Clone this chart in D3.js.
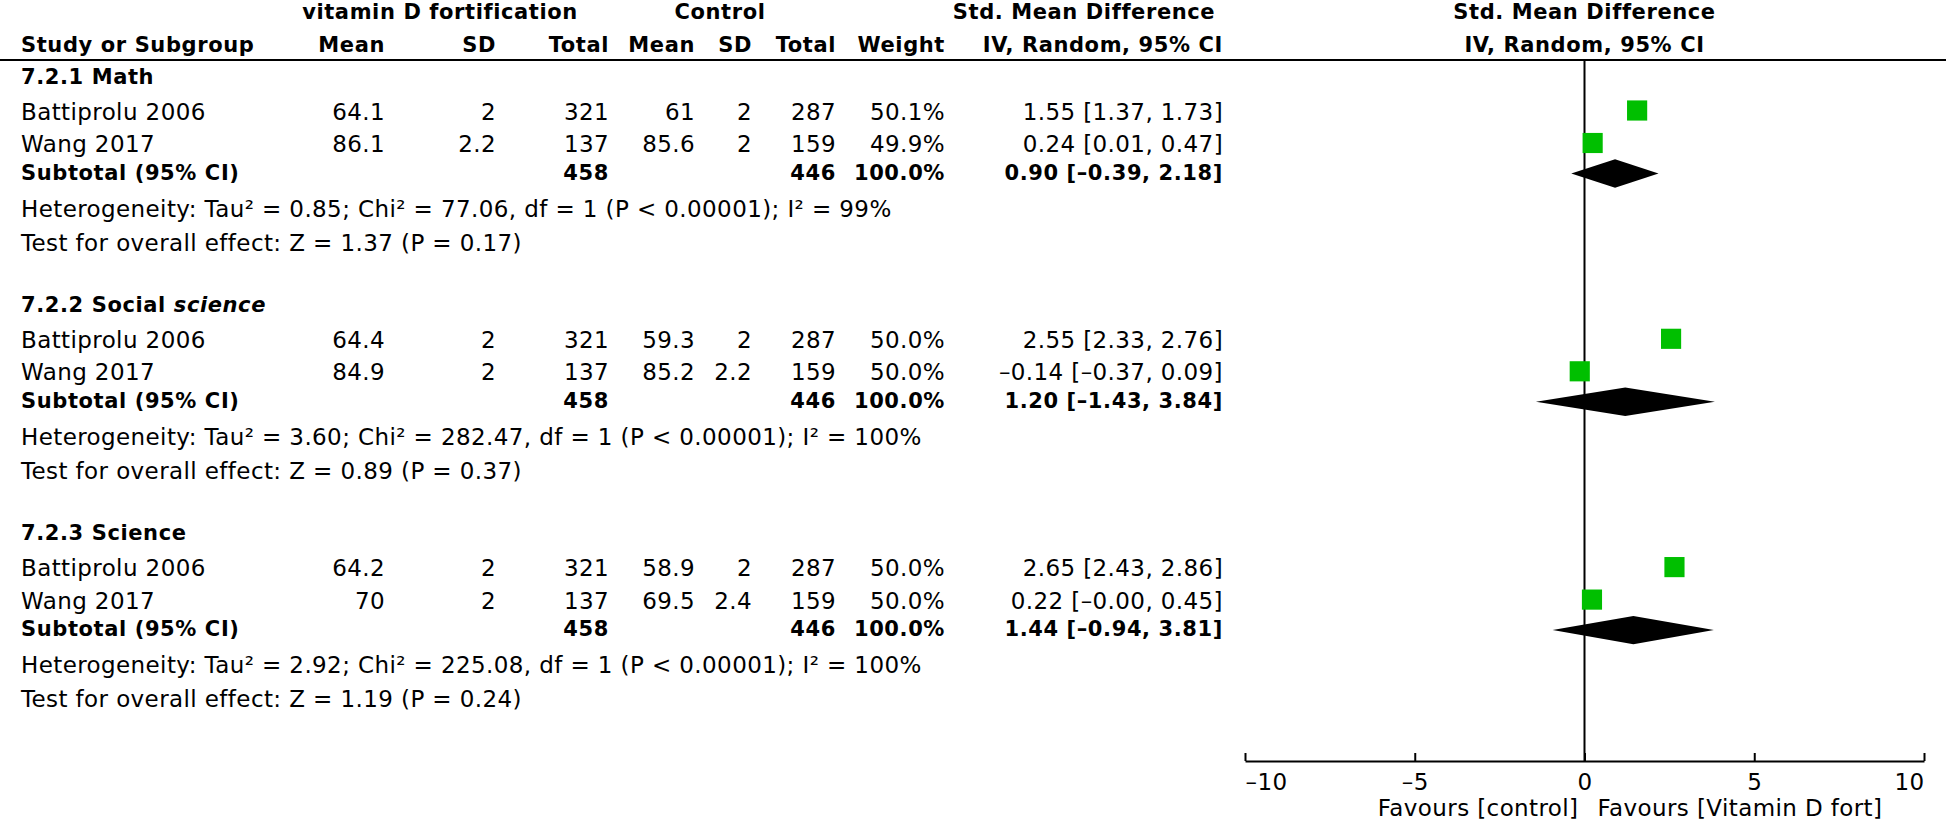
<!DOCTYPE html>
<html>
<head>
<meta charset="utf-8">
<script src="https://cdn.jsdelivr.net/npm/d3@7/dist/d3.min.js"></script>
<style>
  html, body { margin: 0; padding: 0; background: #fff; }
  svg { display: block; }
  text { font-family: "DejaVu Sans", sans-serif; fill: #000; }
</style>
</head>
<body>
<svg id="chart" width="1946" height="821"></svg>
<script>
// ---------------- data ----------------
const groupLabels = ["7.2.1 Math", "7.2.2 Social ", "7.2.3 Science"];
const groupItalic = ["", "science", ""];

const studyGroup = [0, 0, 1, 1, 2, 2];
const studyNames = ["Battiprolu 2006", "Wang 2017", "Battiprolu 2006", "Wang 2017", "Battiprolu 2006", "Wang 2017"];
const expMean = ["64.1", "86.1", "64.4", "84.9", "64.2", "70"];
const expSD = ["2", "2.2", "2", "2", "2", "2"];
const expN = [321, 137, 321, 137, 321, 137];
const ctlMean = ["61", "85.6", "59.3", "85.2", "58.9", "69.5"];
const ctlSD = ["2", "2", "2", "2.2", "2", "2.4"];
const ctlN = [287, 159, 287, 159, 287, 159];
const weights = [50.1, 49.9, 50.0, 50.0, 50.0, 50.0];
const smd = [1.55, 0.24, 2.55, -0.14, 2.65, 0.22];
const ciLow = [1.37, 0.01, 2.33, -0.37, 2.43, -0.00];
const ciHigh = [1.73, 0.47, 2.76, 0.09, 2.86, 0.45];

const subExpN = [458, 458, 458];
const subCtlN = [446, 446, 446];
const subWeight = [100.0, 100.0, 100.0];
const subSmd = [0.90, 1.20, 1.44];
const subLow = [-0.39, -1.43, -0.94];
const subHigh = [2.18, 3.84, 3.81];

const tau2 = ["0.85", "3.60", "2.92"];
const chi2 = ["77.06", "282.47", "225.08"];
const hetDf = [1, 1, 1];
const hetP = ["< 0.00001", "< 0.00001", "< 0.00001"];
const i2 = ["99%", "100%", "100%"];
const zVal = ["1.37", "0.89", "1.19"];
const zP = ["0.17", "0.37", "0.24"];

const xTicks = [-10, -5, 0, 5, 10];
const favourLeft = "Favours [control]";
const favourRight = "Favours [Vitamin D fort]";

// ---------------- layout ----------------
const svg = d3.select("#chart");
const FS = 23;          // regular font size
const LS = 0.4;         // regular letter spacing
const FSB = 21;         // bold font size
const LSB = 0.6;        // bold letter spacing
const GREEN = "#00BF00";

const x = d3.scaleLinear().domain([-10, 10]).range([1245, 1924]);
const sectionY = d3.scaleLinear().domain([0, 1]).range([110.5, 338.8]);
const boxSize = d3.scaleSqrt().domain([0, 100]).range([0, 28.5]);

const col = { name: 21, eMean: 385, eSD: 496, eN: 609, cMean: 695, cSD: 752, cN: 836, w: 945, ci: 1223 };
const off = { header: -27, study: [9, 41.5], sub: 69, het: 106, test: 140 };
const markOff = { study: [0, 32.5], sub: 63 };
const axisY = 761;
const topLineY = 60;

const fmtNum = v => ((v < 0 || Object.is(v, -0)) ? "\u2013" : "") + Math.abs(v).toFixed(2);
const fmtCI = (e, l, h) => `${fmtNum(e)} [${fmtNum(l)}, ${fmtNum(h)}]`;
const fmtPct = v => v.toFixed(1) + "%";

function txt(g, xx, yy, s, opt = {}) {
  return g.append("text")
    .attr("x", xx).attr("y", yy)
    .attr("text-anchor", opt.anchor || "start")
    .attr("font-size", opt.bold ? FSB : FS)
    .attr("letter-spacing", opt.bold ? LSB : LS)
    .attr("font-weight", opt.bold ? "bold" : "normal")
    .text(s);
}

// headers
const hdr = svg.append("g");
txt(hdr, 440, 19, "vitamin D fortification", { bold: true, anchor: "middle" });
txt(hdr, 720, 19, "Control", { bold: true, anchor: "middle" });
txt(hdr, 1084, 19, "Std. Mean Difference", { bold: true, anchor: "middle" });
txt(hdr, (x.range()[0] + x.range()[1]) / 2, 19, "Std. Mean Difference", { bold: true, anchor: "middle" });
txt(hdr, col.name, 52, "Study or Subgroup", { bold: true });
txt(hdr, col.eMean, 52, "Mean", { bold: true, anchor: "end" });
txt(hdr, col.eSD, 52, "SD", { bold: true, anchor: "end" });
txt(hdr, col.eN, 52, "Total", { bold: true, anchor: "end" });
txt(hdr, col.cMean, 52, "Mean", { bold: true, anchor: "end" });
txt(hdr, col.cSD, 52, "SD", { bold: true, anchor: "end" });
txt(hdr, col.cN, 52, "Total", { bold: true, anchor: "end" });
txt(hdr, col.w, 52, "Weight", { bold: true, anchor: "end" });
txt(hdr, col.ci, 52, "IV, Random, 95% CI", { bold: true, anchor: "end" });
txt(hdr, (x.range()[0] + x.range()[1]) / 2, 52, "IV, Random, 95% CI", { bold: true, anchor: "middle" });

svg.append("line").attr("x1", 0).attr("x2", 1946).attr("y1", topLineY).attr("y2", topLineY)
  .attr("stroke", "#000").attr("stroke-width", 2);

// zero line
svg.append("line").attr("x1", x(0)).attr("x2", x(0)).attr("y1", topLineY).attr("y2", axisY)
  .attr("stroke", "#000").attr("stroke-width", 2);

// sections
const tbl = svg.append("g");
const marks = svg.append("g");
groupLabels.forEach((lab, gi) => {
  const base = sectionY(gi);
  const t = txt(tbl, col.name, base + off.header, lab, { bold: true });
  if (groupItalic[gi]) t.append("tspan").attr("font-style", "italic").text(groupItalic[gi]);

  // subtotal
  const ys = base + off.sub;
  txt(tbl, col.name, ys, "Subtotal (95% CI)", { bold: true });
  txt(tbl, col.eN, ys, subExpN[gi], { bold: true, anchor: "end" });
  txt(tbl, col.cN, ys, subCtlN[gi], { bold: true, anchor: "end" });
  txt(tbl, col.w, ys, fmtPct(subWeight[gi]), { bold: true, anchor: "end" });
  txt(tbl, col.ci, ys, fmtCI(subSmd[gi], subLow[gi], subHigh[gi]), { bold: true, anchor: "end" });

  const yd = base + markOff.sub, hh = 14.2;
  marks.append("path")
    .attr("d", `M${x(subLow[gi])},${yd} L${x(subSmd[gi])},${yd - hh} L${x(subHigh[gi])},${yd} L${x(subSmd[gi])},${yd + hh} Z`)
    .attr("fill", "#000");

  txt(tbl, col.name, base + off.het,
    `Heterogeneity: Tau\u00B2 = ${tau2[gi]}; Chi\u00B2 = ${chi2[gi]}, df = ${hetDf[gi]} (P ${hetP[gi]}); I\u00B2 = ${i2[gi]}`);
  txt(tbl, col.name, base + off.test, `Test for overall effect: Z = ${zVal[gi]} (P = ${zP[gi]})`);
});

// studies
const idxInGroup = studyGroup.map((g, i) => studyGroup.slice(0, i).filter(v => v === g).length);
studyNames.forEach((name, i) => {
  const base = sectionY(studyGroup[i]);
  const k = idxInGroup[i];
  const yt = base + off.study[k];
  txt(tbl, col.name, yt, name);
  txt(tbl, col.eMean, yt, expMean[i], { anchor: "end" });
  txt(tbl, col.eSD, yt, expSD[i], { anchor: "end" });
  txt(tbl, col.eN, yt, expN[i], { anchor: "end" });
  txt(tbl, col.cMean, yt, ctlMean[i], { anchor: "end" });
  txt(tbl, col.cSD, yt, ctlSD[i], { anchor: "end" });
  txt(tbl, col.cN, yt, ctlN[i], { anchor: "end" });
  txt(tbl, col.w, yt, fmtPct(weights[i]), { anchor: "end" });
  txt(tbl, col.ci, yt, fmtCI(smd[i], ciLow[i], ciHigh[i]), { anchor: "end" });

  const ym = base + markOff.study[k];
  marks.append("line").attr("x1", x(ciLow[i])).attr("x2", x(ciHigh[i]))
    .attr("y1", ym).attr("y2", ym).attr("stroke", "#000").attr("stroke-width", 2);
  const s = boxSize(weights[i]);
  marks.append("rect").attr("x", x(smd[i]) - s / 2).attr("y", ym - s / 2)
    .attr("width", s).attr("height", s).attr("fill", GREEN);
});

// axis
const axis = d3.axisBottom(x).tickValues(xTicks).tickSizeInner(-8).tickSizeOuter(0).tickPadding(13)
  .tickFormat(v => (v < 0 ? "\u2013" : "") + Math.abs(v));
const ag = svg.append("g").attr("transform", `translate(0,${axisY})`).call(axis);
ag.select(".domain").attr("stroke", "#000").attr("stroke-width", 2);
ag.selectAll(".tick line").attr("stroke", "#000").attr("stroke-width", 2);
ag.selectAll(".tick text").attr("font-size", FS).attr("letter-spacing", LS)
  .attr("font-family", "DejaVu Sans").attr("fill", "#000")
  .attr("text-anchor", (d, i, n) => i === 0 ? "start" : (i === n.length - 1 ? "end" : "middle"));

txt(svg, x(0) - 6, 816, favourLeft, { anchor: "end" });
txt(svg, x(0) + 13, 816, favourRight);
</script>
</body>
</html>
